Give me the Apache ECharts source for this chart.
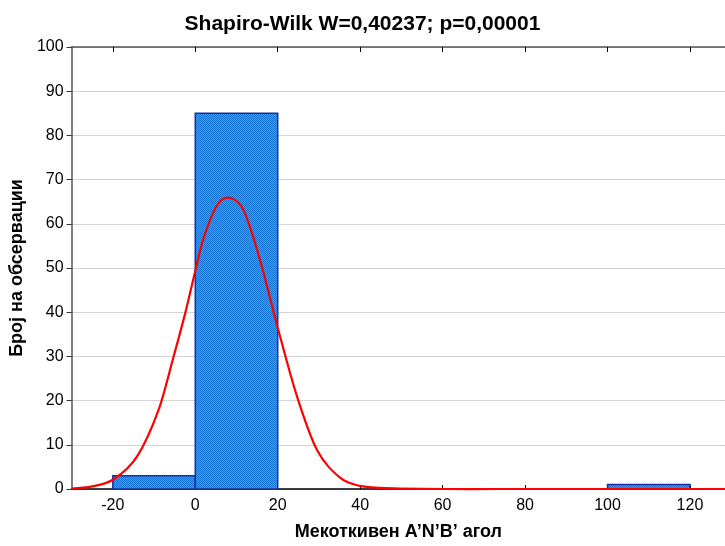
<!DOCTYPE html>
<html>
<head>
<meta charset="utf-8">
<script src="https://cdn.jsdelivr.net/npm/echarts@6/dist/echarts.min.js"></script>
<style>
  html, body { margin: 0; padding: 0; background: #fff; }
  #chart { width: 725px; height: 546px; }
</style>
</head>
<body>
<div id="chart"></div>
<script>
// Histogram bins (lower edge, upper edge) and counts
const binLow = [-20, 0, 100];
const binHigh = [0, 20, 120];
const binCount = [3, 85, 1];

// Fitted normal curve, expected counts per bin width
const curveX = [-30, -25, -19.8, -14.1, -8.9, -5.3, -2.4, 0, 2.0, 5.3, 8.3, 11.7, 15.8, 20.0, 24.7, 29.5, 35.2, 40, 45, 50, 60, 80, 100, 120, 128.5];
const curveY = [0.1, 0.6, 2.2, 7.4, 17.9, 29.8, 39.9, 49.3, 56.7, 64.2, 65.9, 63.1, 51.5, 36.5, 20.9, 8.9, 2.5, 0.7, 0.25, 0.1, 0, 0, 0, 0, 0];

// Axis tick positions
const xTicks = [-20, 0, 20, 40, 60, 80, 100, 120];
const yMin = 0, yMax = 100, yStep = 10;

// Dotted blue texture for the bars
const tex = document.createElement('canvas');
tex.width = 2; tex.height = 2;
const tctx = tex.getContext('2d');
tctx.fillStyle = '#34a0f2'; tctx.fillRect(0, 0, 2, 2);
tctx.fillStyle = '#1676d6'; tctx.fillRect(0, 0, 1, 1); tctx.fillRect(1, 1, 1, 1);

const chart = echarts.init(document.getElementById('chart'), null, { renderer: 'canvas' });
const font = "'Liberation Sans', Arial, sans-serif";

// Smooth curve through the points: cubic Hermite segments (slopes from neighbours), in pixel space
function curvePath(api) {
  const p = curveX.map((x, i) => api.coord([x, curveY[i]]));
  const n = p.length;
  const slope = p.map((_, i) => {
    const a = p[Math.max(i - 1, 0)], b = p[Math.min(i + 1, n - 1)];
    return (b[1] - a[1]) / (b[0] - a[0]);
  });
  let d = 'M' + p[0][0] + ' ' + p[0][1];
  for (let i = 0; i < n - 1; i++) {
    const p1 = p[i], p2 = p[i + 1];
    const h = (p2[0] - p1[0]) / 3;
    d += ' C' + (p1[0] + h) + ' ' + (p1[1] + slope[i] * h) + ' ' +
         (p2[0] - h) + ' ' + (p2[1] - slope[i + 1] * h) + ' ' + p2[0] + ' ' + p2[1];
  }
  return d;
}

chart.setOption({
  animation: false,
  backgroundColor: '#ffffff',
  title: {
    text: 'Shapiro-Wilk W=0,40237; p=0,00001',
    left: 'center', top: 9,
    textStyle: { fontFamily: font, fontSize: 21, fontWeight: 'bold', color: '#000' }
  },
  grid: { left: 71, right: 0, top: 47, bottom: 53 },
  xAxis: [{
    type: 'value', min: -30, max: 128.5, position: 'bottom',
    name: 'Мекоткивен A’N’B’ агол', nameLocation: 'middle', nameGap: 34,
    nameTextStyle: { fontFamily: font, fontSize: 18, fontWeight: 'bold', color: '#000' },
    axisLine: { show: true, onZero: false, lineStyle: { color: '#000', width: 1.5 } },
    axisTick: { show: true, inside: true, length: 4, customValues: xTicks, lineStyle: { color: '#000' } },
    axisLabel: { customValues: xTicks, fontFamily: font, fontSize: 16, color: '#000', margin: 9 },
    splitLine: { show: false }
  }, {
    type: 'value', min: -30, max: 128.5, position: 'top',
    axisLine: { show: true, onZero: false, lineStyle: { color: '#555', width: 1.5 } },
    axisTick: { show: true, inside: true, length: 5, customValues: xTicks, lineStyle: { color: '#000' } },
    axisLabel: { show: false },
    splitLine: { show: false }
  }],
  yAxis: {
    type: 'value', min: yMin, max: yMax, interval: yStep,
    name: 'Број на обсервации', nameLocation: 'middle', nameGap: 42,
    nameTextStyle: { fontFamily: font, fontSize: 18, fontWeight: 'bold', color: '#000' },
    axisLine: { show: true, onZero: false, lineStyle: { color: '#555', width: 1.5 } },
    axisTick: { show: true, length: 5, lineStyle: { color: '#333' } },
    axisLabel: { fontFamily: font, fontSize: 16, color: '#000', margin: 8 },
    splitLine: { show: true, lineStyle: { color: '#a8a8a8', type: [1, 1], width: 1 } }
  },
  series: [{
    type: 'custom',
    data: binCount.map((c, i) => [binLow[i], binHigh[i], c]),
    encode: { x: [0, 1], y: 2 },
    renderItem: function (params, api) {
      const p0 = api.coord([api.value(0), api.value(2)]);
      const p1 = api.coord([api.value(1), 0]);
      return {
        type: 'rect',
        shape: { x: p0[0], y: p0[1], width: p1[0] - p0[0], height: p1[1] - p0[1] },
        style: { fill: { image: tex, repeat: 'repeat' }, stroke: '#1a2ea0', lineWidth: 1.5 }
      };
    },
    z: 2
  }, {
    type: 'custom',
    data: curveX.map((x, i) => [x, curveY[i]]),
    encode: { x: 0, y: 1 },
    renderItem: function (params, api) {
      if (params.dataIndex !== 0) return null;
      return {
        type: 'path',
        shape: { pathData: curvePath(api) },
        style: { fill: null, stroke: '#ff0000', lineWidth: 2.2, lineJoin: 'round' }
      };
    },
    z: 3
  }]
});
</script>
</body>
</html>
